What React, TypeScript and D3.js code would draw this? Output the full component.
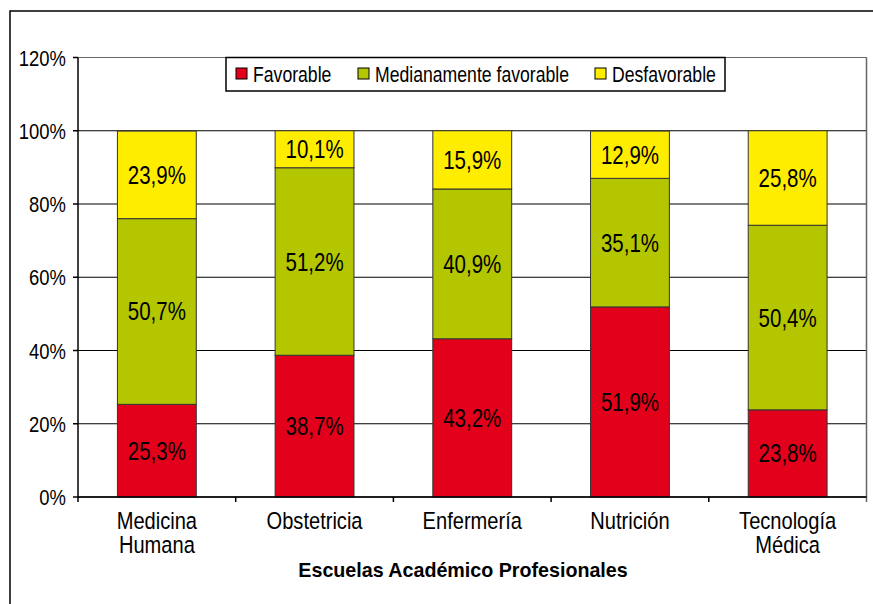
import * as d3 from "d3";

const categories = [["Medicina", "Humana"], ["Obstetricia"], ["Enfermería"], ["Nutrición"], ["Tecnología", "Médica"]];
const seriesNames = ["Favorable", "Medianamente favorable", "Desfavorable"];
const favorable = [25.3, 38.7, 43.2, 51.9, 23.8];
const medianamente = [50.7, 51.2, 40.9, 35.1, 50.4];
const desfavorable = [23.9, 10.1, 15.9, 12.9, 25.8];
const yTicks = [0, 20, 40, 60, 80, 100, 120];
const colors = ["#E2001A", "#B3C600", "#FFED00"];

const FONT = "'Liberation Sans', Arial, sans-serif";
const NARROW = 0.82; // no Arial Narrow here, so squeeze Liberation Sans

const W = 873;
const H = 604;
const left = 78;
const right = 866.5;
const top = 57.5;
const bottom = 497;

// narrow text: draws at (x, y) and squeezes horizontally
const NText = ({ x, y, size, anchor = "start", dy = "0", sx = NARROW, weight = "normal", children }: any) => (
  <text transform={`translate(${x},${y}) scale(${sx},1)`} textAnchor={anchor} dy={dy} fontSize={size} fontWeight={weight} fill="#000">
    {children}
  </text>
);

const App = () => {
  const keys = categories.map((c) => c.join(" "));
  const rows = keys.map((k, i) => ({ key: k, s0: favorable[i], s1: medianamente[i], s2: desfavorable[i] }));
  const stack = d3.stack<any>().keys(["s0", "s1", "s2"])(rows);

  const x = d3.scaleBand().domain(keys).range([left, right]).paddingInner(0).paddingOuter(0);
  const y = d3.scaleLinear().domain([0, 120]).range([bottom, top]);
  const bw = x.bandwidth() * 0.5;
  const cx = (i: number) => (x(keys[i]) as number) + x.bandwidth() / 2;
  const fmt = (v: number) => d3.format(".1f")(v).replace(".", ",") + "%";

  const legendX = 226;
  const legendItems = [236, 358, 595];

  return (
    <svg width={W} height={H} style={{ position: "absolute", left: 0, top: 0, background: "#fff" }} fontFamily={FONT}>
      <rect x={10} y={11} width={1000} height={800} fill="#fff" stroke="#000" strokeWidth={1.5} />

      {/* gridlines */}
      {yTicks.map((t) => (
        <line key={t} x1={left} x2={right} y1={y(t)} y2={y(t)} stroke={t === 120 ? "#666" : "#000"} strokeWidth={1} />
      ))}
      <line x1={right} x2={right} y1={top} y2={bottom + 5} stroke="#666" strokeWidth={1.5} />

      {/* bars */}
      {stack.map((layer, si) =>
        layer.map((d, i) => {
          const x0 = (x(keys[i]) as number) + (x.bandwidth() - bw) / 2;
          return (
            <rect key={si + "-" + i} x={x0} width={bw} y={y(d[1])} height={y(d[0]) - y(d[1])}
              fill={colors[si]} stroke="#333" strokeWidth={1} />
          );
        })
      )}
      {stack.map((layer, si) =>
        layer.map((d, i) => (
          <NText key={"t" + si + "-" + i} x={cx(i)} y={(y(d[0]) + y(d[1])) / 2} dy="0.36em" anchor="middle" size={25}>
            {fmt(d[1] - d[0])}
          </NText>
        ))
      )}

      {/* axes */}
      <line x1={left} x2={left} y1={top} y2={bottom} stroke="#000" strokeWidth={1.5} />
      <line x1={left} x2={right} y1={bottom} y2={bottom} stroke="#000" strokeWidth={1.5} />
      {yTicks.map((t) => (
        <g key={"yt" + t}>
          <line x1={left - 5} x2={left} y1={y(t)} y2={y(t)} stroke="#000" strokeWidth={1.5} />
          <NText x={66} y={y(t)} dy="0.36em" anchor="end" size={22.5}>{t}%</NText>
        </g>
      ))}
      {keys.map((k) => (
        <line key={"xt" + k} x1={x(k) as number} x2={x(k) as number} y1={bottom} y2={bottom + 5} stroke="#000" strokeWidth={1.5} />
      ))}
      {categories.map((c, i) =>
        c.map((line, j) => (
          <NText key={"xl" + i + "-" + j} x={cx(i)} y={529 + j * 23.5} anchor="middle" size={24.5}>{line}</NText>
        ))
      )}
      <NText x={463} y={577} anchor="middle" size={20.5} sx={0.96} weight="bold">Escuelas Académico Profesionales</NText>

      {/* legend */}
      <rect x={legendX} y={top} width={725 - legendX} height={91 - top} fill="#fff" stroke="#000" strokeWidth={1.5} />
      {seriesNames.map((n, i) => (
        <g key={n}>
          <rect x={legendItems[i]} y={68} width={11} height={11} fill={colors[i]} stroke="#000" strokeWidth={1} />
          <NText x={legendItems[i] + 17} y={82} size={21.5}>{n}</NText>
        </g>
      ))}
    </svg>
  );
};

export default App;
